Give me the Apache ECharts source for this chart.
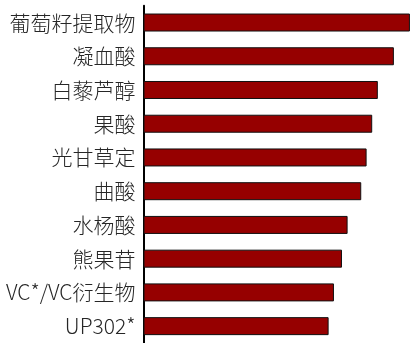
<!DOCTYPE html>
<html>
<head>
<meta charset="utf-8">
<style>
  html, body { margin: 0; padding: 0; background: #fff; }
  #chart { width: 411px; height: 343px; }
</style>
<script src="https://cdn.jsdelivr.net/npm/echarts@6/dist/echarts.min.js"></script>
</head>
<body>
<div id="chart"></div>
<script>
// Ingredient names, top to bottom
const categories = [
  '葡萄籽提取物', '凝血酸', '白藜芦醇', '果酸', '光甘草定',
  '曲酸', '水杨酸', '熊果苷', 'VC*/VC衍生物', 'UP302*'
];
// Score for each ingredient
const scores = [99.6, 93.6, 87.6, 85.5, 83.4, 81.4, 76.3, 74.2, 71.2, 69.2];

const chart = echarts.init(document.getElementById('chart'), null, { renderer: 'canvas' });
chart.setOption({
  animation: false,
  backgroundColor: '#ffffff',
  grid: { left: 143.5, right: 0, top: 5.65, bottom: -5.65, containLabel: false },
  xAxis: {
    type: 'value',
    min: 0,
    max: 100,
    show: false
  },
  yAxis: {
    type: 'category',
    data: categories,
    inverse: true,
    axisLine: { show: true, lineStyle: { color: '#000', width: 2 } },
    axisTick: { show: false },
    axisLabel: {
      margin: 8,
      color: '#262626',
      fontSize: 21,
      fontWeight: 300,
      fontFamily: '"Noto Sans CJK SC", "Noto Sans", sans-serif'
    },
    splitLine: { show: false }
  },
  series: [{
    type: 'bar',
    data: scores,
    barWidth: 18,
    itemStyle: { color: '#960000', borderColor: '#111', borderWidth: 1 },
    z: 1
  }]
});
</script>
</body>
</html>
